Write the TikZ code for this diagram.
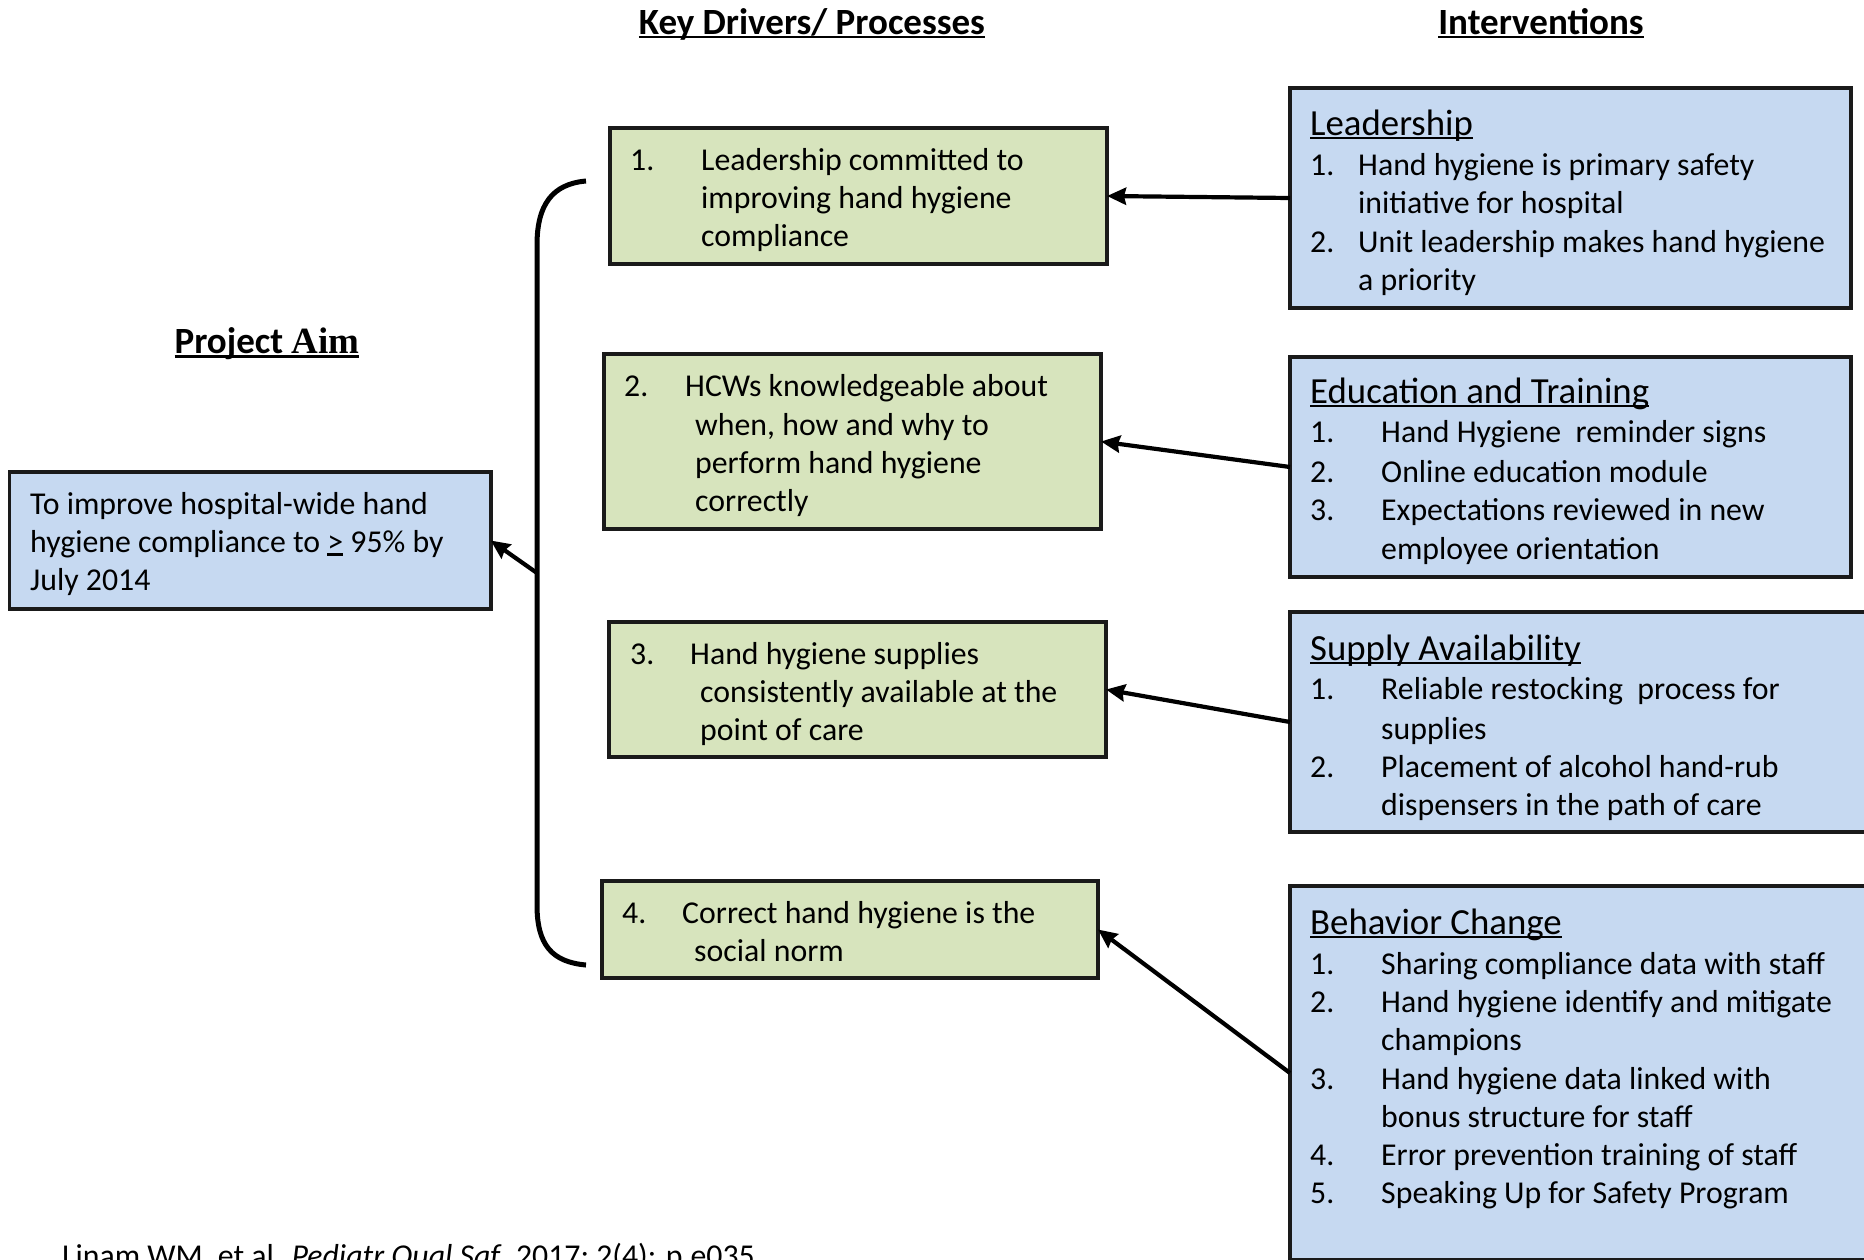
\documentclass[tikz,border=0pt]{standalone}
\usepackage{fontspec}
\setmainfont{Carlito}
\newfontfamily\timesf{Liberation Serif}
\usetikzlibrary{arrows.meta}
\definecolor{greenfill}{HTML}{D7E4BD}
\definecolor{bluefill}{HTML}{C6D9F1}
\definecolor{edgecol}{HTML}{1A1A1A}
\newcommand\myul[1]{\setbox0\hbox{#1}\rlap{\rule[-0.11em]{\wd0}{0.065em}}\box0\relax}
\begin{document}
\begin{tikzpicture}[x=1pt,y=-1pt,
 box/.style={draw=edgecol, line width=3.5pt, inner sep=0pt, outer sep=0pt},
 drv/.style={box, fill=greenfill},
 intv/.style={box, fill=bluefill},
 txt/.style={anchor=base west, inner sep=0pt, yshift=-2pt, font=\fontsize{31.8}{38}\selectfont},
 ttl/.style={anchor=base west, inner sep=0pt, yshift=-4pt, font=\fontsize{36.8}{44}\selectfont},
 hdr/.style={anchor=base, inner sep=0pt, font=\fontsize{37}{44}\selectfont\bfseries},
 link/.style={line width=4.2pt, -{Stealth[length=19pt,width=17pt,inset=2pt]}},
]
\useasboundingbox (0,0) rectangle (1864,1259);

% headers
\node[hdr] (hkd) at (812,34) {\myul{Key Drivers/ Processes}};
\node[hdr] (hint) at (1541,34) {\myul{Interventions}};
\node[hdr] (hpa) at (267,353.5) {\myul{Project {\timesf Aim}}};

% boxes
\node[intv, minimum width=481.5pt, minimum height=137pt] (aim) at (250,540.5) {};
\node[drv, minimum width=497pt, minimum height=136pt] (d1) at (858.5,196) {};
\node[drv, minimum width=497pt, minimum height=175pt] (d2) at (852.5,441.5) {};
\node[drv, minimum width=497pt, minimum height=135pt] (d3) at (857.5,689.5) {};
\node[drv, minimum width=496pt, minimum height=97pt] (d4) at (850,929.5) {};
\node[intv, minimum width=561pt, minimum height=220pt] (i1) at (1570.5,198) {};
\node[intv, minimum width=561pt, minimum height=220pt] (i2) at (1570.5,467) {};
\node[intv, minimum width=585pt, minimum height=220pt] (i3) at (1582.5,722) {};
\node[intv, minimum width=585pt, minimum height=374pt] (i4) at (1582.5,1073) {};

% aim text
\node[txt] (a1) at (30,512) {To improve hospital-wide hand};
\node[txt] (a2) at (30,550) {hygiene compliance to \myul{>} 95\% by};
\node[txt] (a3) at (30,588) {July 2014};

% driver 1
\node[txt] (d1n) at (630,168) {1.};
\node[txt] (d1a) at (701,168) {Leadership committed to};
\node[txt] (d1b) at (701,206) {improving hand hygiene};
\node[txt] (d1c) at (701,244) {compliance};
% driver 2
\node[txt] (d2n) at (624,394) {2.};
\node[txt] (d2a) at (685,394) {HCWs knowledgeable about};
\node[txt] (d2b) at (695,433) {when, how and why to};
\node[txt] (d2c) at (695,471) {perform hand hygiene};
\node[txt] (d2d) at (695,509) {correctly};
% driver 3
\node[txt] (d3n) at (630,662) {3.};
\node[txt] (d3a) at (690,662) {Hand hygiene supplies};
\node[txt] (d3b) at (700,700) {consistently available at the};
\node[txt] (d3c) at (700,738) {point of care};
% driver 4
\node[txt] (d4n) at (622,921) {4.};
\node[txt] (d4a) at (682,921) {Correct hand hygiene is the};
\node[txt] (d4b) at (694,959) {social norm};

% intervention 1
\node[ttl] (i1t) at (1310,131) {\myul{Leadership}};
\node[txt] (i1n1) at (1310,173) {1.};
\node[txt] (i1a) at (1358,173) {Hand hygiene is primary safety};
\node[txt] (i1b) at (1358,211) {initiative for hospital};
\node[txt] (i1n2) at (1310,250) {2.};
\node[txt] (i1c) at (1358,250) {Unit leadership makes hand hygiene};
\node[txt] (i1d) at (1358,288) {a priority};
% intervention 2
\node[ttl] (i2t) at (1310,399) {\myul{Education and Training}};
\node[txt] (i2n1) at (1310,440) {1.};
\node[txt] (i2a) at (1381,440) {Hand Hygiene\ \ reminder signs};
\node[txt] (i2n2) at (1310,480) {2.};
\node[txt] (i2b) at (1381,480) {Online education module};
\node[txt] (i2n3) at (1310,518) {3.};
\node[txt] (i2c) at (1381,518) {Expectations reviewed in new};
\node[txt] (i2d) at (1381,557) {employee orientation};
% intervention 3
\node[ttl] (i3t) at (1310,656) {\myul{Supply Availability}};
\node[txt] (i3n1) at (1310,697) {1.};
\node[txt] (i3a) at (1381,697) {Reliable restocking\ \ process for};
\node[txt] (i3b) at (1381,737) {supplies};
\node[txt] (i3n2) at (1310,775) {2.};
\node[txt] (i3c) at (1381,775) {Placement of alcohol hand-rub};
\node[txt] (i3d) at (1381,813) {dispensers in the path of care};
% intervention 4
\node[ttl] (i4t) at (1310,930) {\myul{Behavior Change}};
\node[txt] (i4n1) at (1310,972) {1.};
\node[txt] (i4a) at (1381,972) {Sharing compliance data with staff};
\node[txt] (i4n2) at (1310,1010) {2.};
\node[txt] (i4b) at (1381,1010) {Hand hygiene identify and mitigate};
\node[txt] (i4c) at (1381,1048) {champions};
\node[txt] (i4n3) at (1310,1087) {3.};
\node[txt] (i4d) at (1381,1087) {Hand hygiene data linked with};
\node[txt] (i4e) at (1381,1125) {bonus structure for staff};
\node[txt] (i4n4) at (1310,1163) {4.};
\node[txt] (i4f) at (1381,1163) {Error prevention training of staff};
\node[txt] (i4n5) at (1310,1201) {5.};
\node[txt] (i4g) at (1381,1201) {Speaking Up for Safety Program};

% citation
\node[txt] (cite) at (62,1264) {Linam WM, et al. \textit{Pediatr Qual Saf.} 2017; 2(4): p.e035};

% bracket
\coordinate (btop) at (586,181);
\coordinate (bbot) at (586,965);
\coordinate (bmid) at (537,573);
\draw[line width=5pt] (btop) .. controls (552,184) and (537,205) .. (537,245) -- (537,905) .. controls (537,945) and (552,962) .. (bbot);
\draw[link] (bmid) -- (aim.east);

% connectors
\draw[link] (i1.west) -- (d1.east);
\draw[link] (i2.west) -- (d2.east);
\draw[link] (i3.west) -- (d3.east);
\draw[link] (i4.west) -- (d4.east);
\end{tikzpicture}
\end{document}
